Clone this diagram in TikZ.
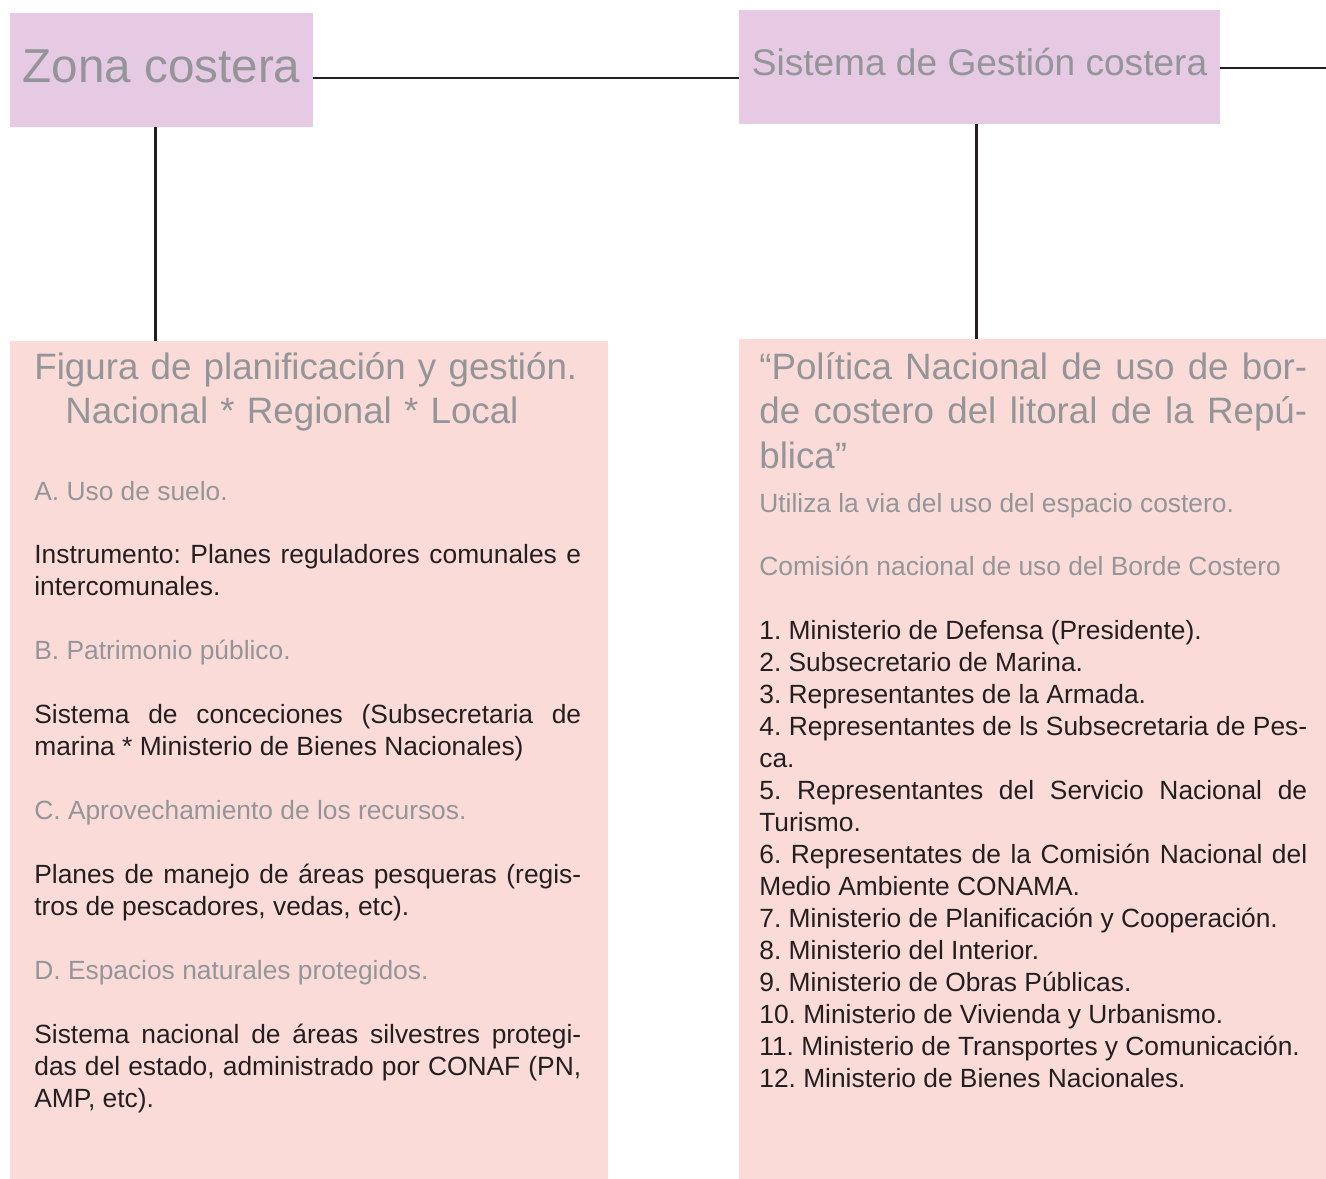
\documentclass[tikz,border=0pt]{standalone}
\usepackage{fontspec}
\setmainfont{Liberation Sans}
\usetikzlibrary{calc}

\definecolor{lila}{HTML}{E6C9E2}
\definecolor{rosa}{HTML}{FADBD8}
\definecolor{gris}{HTML}{939598}
\definecolor{tinta}{HTML}{231F20}
\frenchspacing

\begin{document}
\begin{tikzpicture}[x=0.02cm,y=-0.02cm]
    \tikzstyle{cabecera}=[fill=lila,inner sep=0pt,outer sep=0pt,minimum height=2.28cm,text=gris]
    \tikzstyle{panel}=[fill=rosa,inner sep=0pt,outer sep=0pt]
    \tikzstyle{titulo}=[inner sep=0pt,anchor=base west,text=gris,font=\fontsize{20.9}{25.6}\selectfont]
    \tikzstyle{cuerpo}=[inner sep=0pt,anchor=base west,text=tinta,align=justify,font=\fontsize{15}{18.2}\selectfont]
    \tikzstyle{enlace}=[draw=tinta,line width=0.054cm]
    \useasboundingbox (0,0) rectangle (1326,1179);
    \node[cabecera,minimum width=6.06cm,text height=0.68cm,text depth=0.16cm,font=\fontsize{27.1}{32}\selectfont] (zona) at (161.5,70) {Zona costera};
    \node[cabecera,minimum width=9.62cm,text height=0.62cm,text depth=0.26cm,font=\fontsize{21.1}{25}\selectfont] (sistema) at (979.5,67) {Sistema de Gestión costera};
    \node[panel,minimum width=11.96cm,minimum height=16.76cm] (planif) at (309,760) {};
    \node[panel,minimum width=11.74cm,minimum height=16.8cm] (politica) at (1032.5,759) {};
    \coordinate (borde) at (1326,68);
    \draw[enlace] ([yshift=-0.16cm]zona.east) -- ([yshift=-0.16cm]zona.east -| sistema.west);
    \draw[enlace] (sistema.east |- borde) -- (borde);
    \draw[enlace] ([xshift=-0.12cm]zona.south) -- ([xshift=-0.12cm]zona.south |- planif.north);
    \draw[enlace] ([xshift=-0.064cm]sistema.south) -- ([xshift=-0.064cm]sistema.south |- politica.north);
    \node[titulo,text width=11cm,align=left] (figura) at (34,379)
      {Figura de planificación y gestión.\\\hspace*{0.62cm}Nacional * Regional * Local};
    \node[cuerpo,text width=10.94cm] (usos) at (34,500) {%
      {\color{gris}A. Uso de suelo.}\\[0.64cm]
      Instrumento: Planes reguladores comunales e\linebreak intercomunales.\\[0.64cm]
      {\color{gris}B. Patrimonio público.}\\[0.64cm]
      Sistema de conceciones (Subsecretaria de\linebreak marina * Ministerio de Bienes Nacionales)\\[0.64cm]
      {\color{gris}C. Aprovechamiento de los recursos.}\\[0.64cm]
      Planes de manejo de áreas pesqueras (regis-\linebreak tros de pescadores, vedas, etc).\\[0.64cm]
      {\color{gris}D. Espacios naturales protegidos.}\\[0.64cm]
      Sistema nacional de áreas silvestres protegi-\linebreak das del estado, administrado por CONAF (PN,\linebreak AMP, etc).};
    \node[titulo,text width=10.96cm,align=justify] (ley) at (759,379)
      {“Política Nacional de uso de bor-\linebreak de costero del litoral de la Repú-\linebreak blica”};
    \node[cuerpo,text width=10.96cm] (comision) at (759,512) {%
      {\color{gris}Utiliza la via del uso del espacio costero.}\\[0.64cm]
      {\color{gris}Comisión nacional de uso del Borde Costero}\\[0.64cm]
      1. Ministerio de Defensa (Presidente).\\
      2. Subsecretario de Marina.\\
      3. Representantes de la Armada.\\
      4. Representantes de ls Subsecretaria de Pes-\linebreak ca.\\
      5. Representantes del Servicio Nacional de\linebreak Turismo.\\
      6. Representates de la Comisión Nacional del\linebreak Medio Ambiente CONAMA.\\
      7. Ministerio de Planificación y Cooperación.\\
      8. Ministerio del Interior.\\
      9. Ministerio de Obras Públicas.\\
      10. Ministerio de Vivienda y Urbanismo.\\
      11. Ministerio de Transportes y Comunicación.\\
      12. Ministerio de Bienes Nacionales.};
\end{tikzpicture}
\end{document}
